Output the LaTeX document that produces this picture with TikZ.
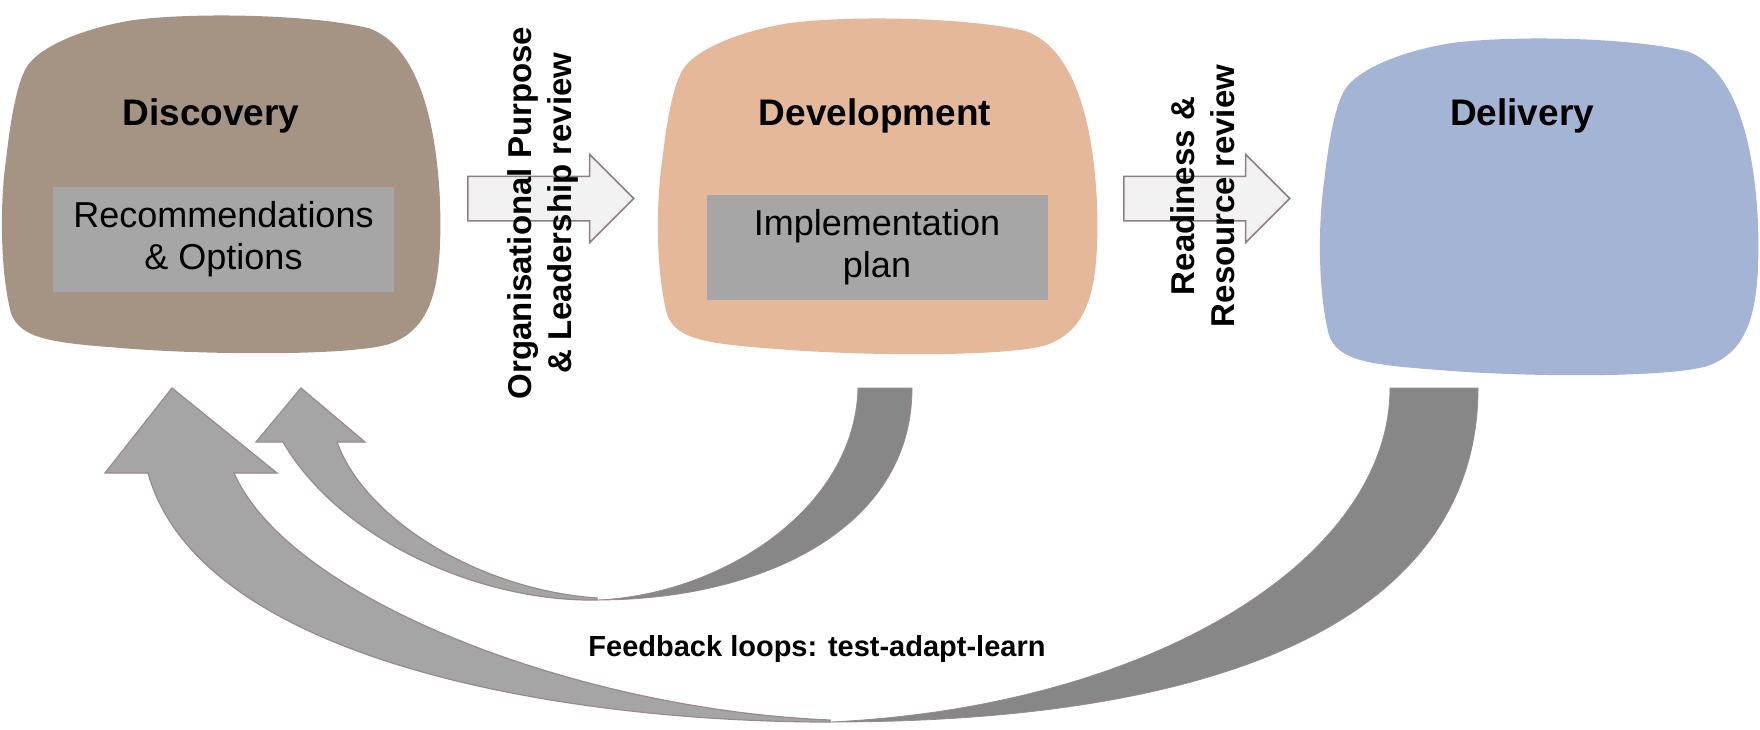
\documentclass[tikz,border=0pt]{standalone}
\usepackage{fontspec}
\setmainfont{Liberation Sans}
\usepackage{tikz}
\usetikzlibrary{shapes.arrows}
\definecolor{discbrown}{HTML}{A59483}
\definecolor{devpeach}{HTML}{E5B89A}
\definecolor{delivblue}{HTML}{A3B4D5}
\definecolor{itemgray}{HTML}{A6A6A6}
\definecolor{gatefill}{HTML}{F2F2F2}
\definecolor{gateedge}{HTML}{8E7F7F}
\definecolor{looplight}{HTML}{A5A5A5}
\definecolor{loopdark}{HTML}{878787}
\definecolor{loopedge}{HTML}{9A8A8A}

\begin{document}
\begin{tikzpicture}[
  x=1pt, y=-1pt,
  blob/.pic={\path[pic actions] (0.05,0.17)
    .. controls (0.07,0.10) and (0.18,0.04) .. (0.30,0.015)
    .. controls (0.45,-0.01) and (0.72,0.0) .. (0.84,0.04)
    .. controls (0.94,0.09) and (0.99,0.28) .. (1.0,0.55)
    .. controls (1.005,0.78) and (0.99,0.93) .. (0.88,0.975)
    .. controls (0.78,1.01) and (0.45,1.005) .. (0.27,0.985)
    .. controls (0.12,0.97) and (0.04,0.96) .. (0.02,0.88)
    .. controls (-0.005,0.75) and (-0.005,0.55) .. (0.01,0.42)
    .. controls (0.02,0.30) and (0.035,0.21) .. (0.05,0.17) -- cycle;},
  title/.style={font=\fontsize{37}{44}\selectfont\bfseries},
  itembox/.style={fill=itemgray, minimum width=341pt, minimum height=105pt,
                  align=center, inner sep=0pt, font=\fontsize{36}{42}\selectfont},
  gate/.style={single arrow, draw=gateedge, fill=gatefill, line width=1.5pt,
               minimum height=166pt, inner xsep=0pt, inner ysep=21.5pt,
               single arrow head extend=22pt, single arrow tip angle=90, anchor=tail},
  gatelabel/.style={rotate=90, align=center, font=\fontsize{33}{40}\selectfont\bfseries},
  lightband/.style={fill=looplight, draw=loopedge, line width=1.2pt},
  darkband/.style={fill=loopdark, draw=loopedge, line width=0.8pt}
]
\useasboundingbox (0,0) rectangle (1760,729);

% stages
\pic[fill=discbrown, xscale=438, yscale=338] at (2,15) {blob};
\pic[fill=devpeach, xscale=439, yscale=336] at (658,18) {blob};
\pic[fill=delivblue, xscale=438, yscale=337] at (1320,38) {blob};

\node[title] (disc) at (211,116) {Discovery};
\node[title] (dev) at (875,116) {Development};
\node[title] (deliv) at (1522,116) {Delivery};

\node[itembox] (recs) at (223.5,239.5) {Recommendations\\\& Options};
\node[itembox] (impl) at (877,247.5) {Implementation\\plan};

% gates between stages
\node[gate] (gate1) at (467,198.5) {};
\node[gate] (gate2) at (1123,198.5) {};
\node[gatelabel] (gate1txt) at (543,213) {Organisational Purpose\\\& Leadership review};
\node[gatelabel] (gate2txt) at (1203,196) {Readiness \&\\Resource review};

% feedback loops
\draw[darkband] (1390,388) -- (1478,388) .. controls (1478,600) and (1260,722) .. (830,722)
  .. controls (1150,707) and (1390,560) .. (1390,388) -- cycle;
\draw[lightband] (830,722) .. controls (560,722) and (200,660) .. (148,473) -- (105,473)
  -- (172,388) -- (277,473) -- (234,473) .. controls (290,600) and (580,710) .. (830,720) -- cycle;

\draw[darkband] (858,388) -- (912,388) .. controls (912,530) and (760,600) .. (597,600)
  .. controls (720,595) and (855,510) .. (858,388) -- cycle;
\draw[lightband] (597,600) .. controls (480,602) and (340,540) .. (283,442) -- (256,442)
  -- (301,388) -- (365,442) -- (337,442) .. controls (365,520) and (480,590) .. (597,598) -- cycle;

\node[font=\fontsize{29}{35}\selectfont\bfseries] (loops) at (817,649) {Feedback loops: test-adapt-learn};

\end{tikzpicture}
\end{document}
